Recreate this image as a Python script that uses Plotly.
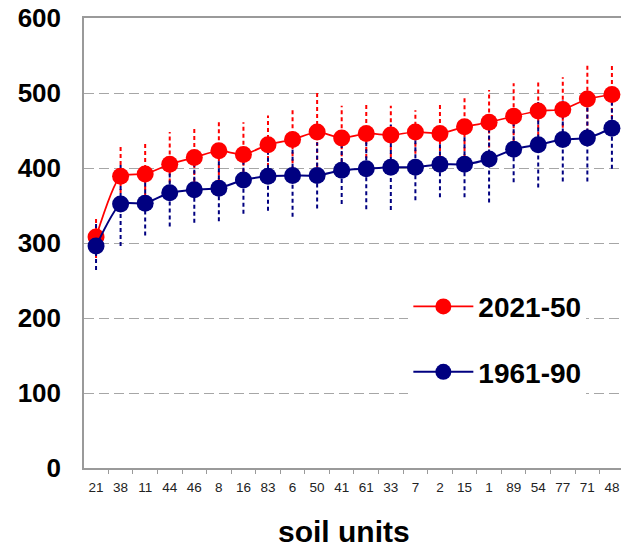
import plotly.graph_objects as go

soil_units = ["21", "38", "11", "44", "46", "8", "16", "83", "6", "50", "41",
              "61", "33", "7", "2", "15", "1", "89", "54", "77", "71", "48"]

mean_2021_50 = [308, 389, 392, 405, 414, 423, 418, 431, 438, 448, 440,
                446, 444, 448, 446, 455, 461, 469, 476, 478, 492, 498]
err_2021_50 = [28, 41, 40, 43, 42, 42, 43, 39, 41, 56, 43,
               42, 39, 29, 42, 42, 43, 44, 42, 43, 45, 42]

mean_1961_90 = [296, 352, 353, 367, 371, 373, 384, 389, 390, 390, 397,
                399, 401, 401, 405, 405, 412, 425, 431, 438, 440, 453]
err_1961_90 = [32, 56, 43, 45, 44, 44, 45, 46, 55, 44, 45,
               54, 57, 44, 44, 44, 58, 44, 57, 56, 58, 54]

series = [
    ("2021-50", mean_2021_50, err_2021_50, "#FF0000", 1.75),
    ("1961-90", mean_1961_90, err_1961_90, "#000080", 2),
]

fig = go.Figure()

# dotted error bars
for name, mean, err, color, lw in series:
    xs, ys = [], []
    for c, m, e in zip(soil_units, mean, err):
        xs += [c, c, None]
        ys += [m - e, m + e, None]
    fig.add_trace(go.Scatter(x=xs, y=ys, mode="lines", showlegend=False,
                             hoverinfo="skip", cliponaxis=False,
                             line=dict(color=color, width=2, dash="4px,3px")))

for gi, (name, mean, err, color, lw) in enumerate(series):
    fig.add_trace(go.Scatter(x=soil_units, y=mean, name=name, mode="lines+markers",
                             legendgroup=f"g{gi}", cliponaxis=False,
                             line=dict(color=color, width=lw, shape="spline", smoothing=0.6),
                             marker=dict(color=color, size=17)))

fig.update_layout(
    width=621, height=547,
    margin=dict(l=84, r=0, t=18, b=79, autoexpand=False),
    paper_bgcolor="white", plot_bgcolor="white",
    font=dict(family="Liberation Sans, Arial, sans-serif", color="black"),
    showlegend=True,
    legend=dict(x=0.604, y=0.414, xanchor="left", yanchor="top",
                bgcolor="white", borderwidth=0, itemwidth=60,
                tracegroupgap=26,
                font=dict(size=28, color="black", family="Liberation Sans, Arial, sans-serif",
                          weight="bold")),
    xaxis=dict(type="category", range=[-0.49, 21.37], automargin=False,
               showline=True, linecolor="#9a9a9a", linewidth=1.5, mirror=True,
               ticks="outside", ticklen=4, tickcolor="#9a9a9a", tickson="boundaries",
               showgrid=False, tickangle=0, tickfont=dict(size=13.5, color="#222222"),
               ticklabelstandoff=6),
    yaxis=dict(range=[0, 600], tickvals=[0, 100, 200, 300, 400, 500, 600],
               automargin=False,
               showline=True, linecolor="#9a9a9a", linewidth=1.5,
               ticks="", zeroline=False,
               showgrid=True, gridcolor="#a6a6a6", gridwidth=1, griddash="10px,5px",
               tickfont=dict(size=26, color="black", weight="bold"),
               ticklabelstandoff=16),
    annotations=[dict(text="<b>soil units</b>", xref="paper", yref="paper",
                      x=0.485, y=-0.183, xanchor="center", yanchor="bottom",
                      showarrow=False, font=dict(size=30, color="black"))],
)

fig.write_html("out.html")
